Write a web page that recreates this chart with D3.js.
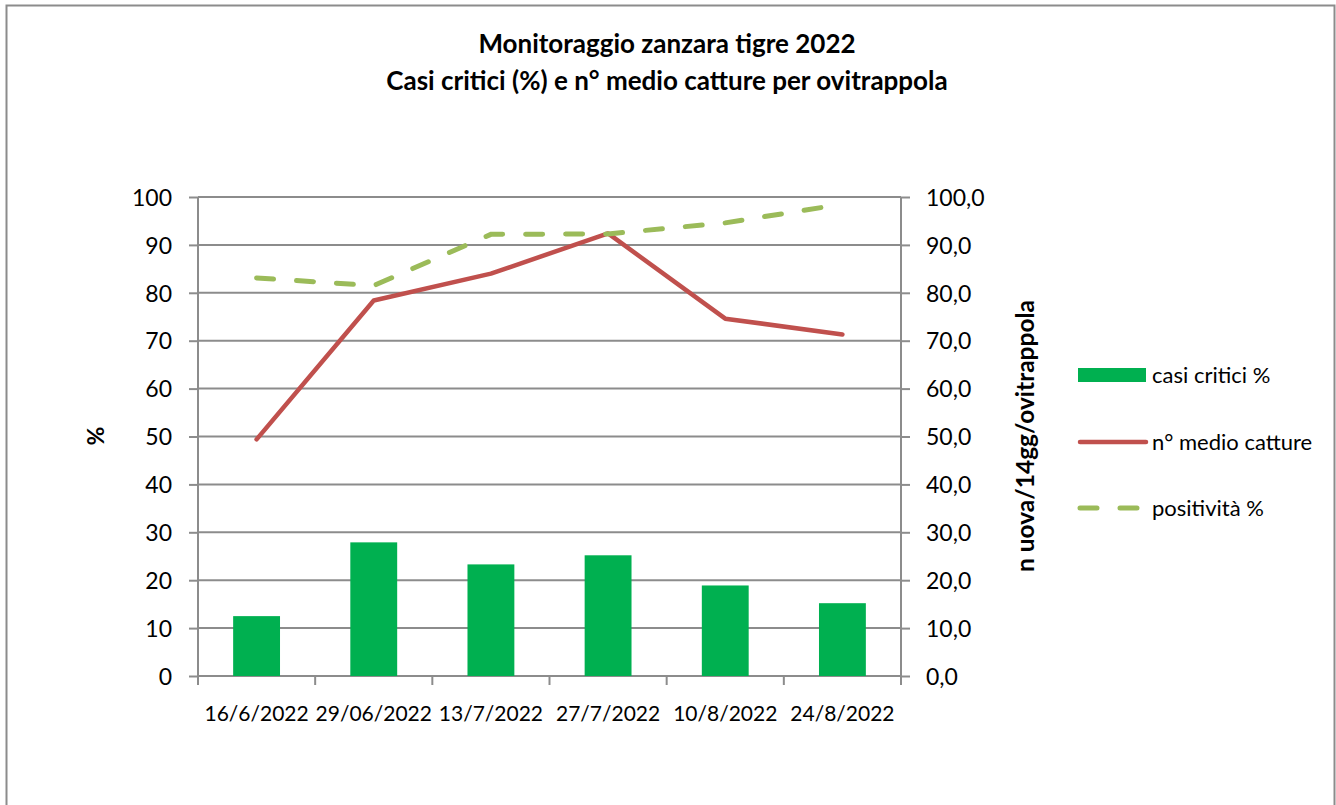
<!DOCTYPE html>
<html>
<head>
<meta charset="utf-8">
<script src="https://cdn.jsdelivr.net/npm/d3@7"></script>
<style>
  body { margin: 0; background: #fff; }
  svg text { font-family: Lato, "Open Sans", sans-serif; fill: #000; }
</style>
</head>
<body>
<script>
// dati
const date = ["16/6/2022", "29/06/2022", "13/7/2022", "27/7/2022", "10/8/2022", "24/8/2022"];
const casiCritici = [12.5, 27.9, 23.3, 25.2, 18.9, 15.2];
const medioCatture = [49.4, 78.4, 84.0, 92.4, 74.6, 71.3];
const positivita = [83.1, 81.5, 92.2, 92.3, 94.6, 98.5];
const tickSinistra = [0, 10, 20, 30, 40, 50, 60, 70, 80, 90, 100];
const tickDestra = ["0,0", "10,0", "20,0", "30,0", "40,0", "50,0", "60,0", "70,0", "80,0", "90,0", "100,0"];

const W = 1336, H = 805;
const margin = { top: 197, left: 198, right: 435, bottom: 129 };
const width = W - margin.left - margin.right;   // 703
const height = H - margin.top - margin.bottom;  // 479

const svg = d3.select("body").append("svg")
  .attr("width", W)
  .attr("height", H);

// cornice esterna
svg.append("rect")
  .attr("x", 6.5).attr("y", 5.5)
  .attr("width", 1328).attr("height", 820)
  .attr("fill", "none")
  .attr("stroke", "#8c8c8c")
  .attr("stroke-width", 2);

// titolo
const titolo = svg.append("text")
  .attr("text-anchor", "middle")
  .style("font-weight", "bold")
  .style("font-size", "26px");
titolo.append("tspan").attr("x", 667).attr("y", 53).text("Monitoraggio zanzara tigre 2022");
titolo.append("tspan").attr("x", 667).attr("y", 90).text("Casi critici (%) e n° medio catture per ovitrappola");

const g = svg.append("g")
  .attr("transform", "translate(" + margin.left + "," + margin.top + ")");

const x = d3.scaleBand().domain(date).range([0, width]);
const barW = x.step() * 0.4;
const y = d3.scaleLinear().domain([0, 100]).range([height, 0]);

// griglia
g.selectAll(".grid")
  .data(tickSinistra.slice(1))
  .enter().append("line")
  .attr("x1", 0).attr("x2", width)
  .attr("y1", d => y(d)).attr("y2", d => y(d))
  .attr("stroke", "#8c8c8c").attr("stroke-width", 2);

// asse sinistro
const axL = g.append("g")
  .call(d3.axisLeft(y).tickValues(tickSinistra).tickSize(9).tickPadding(17));
axL.select(".domain").attr("stroke", "#8c8c8c").attr("stroke-width", 2).attr("d", "M0," + height + "V0");
axL.selectAll(".tick line").attr("stroke", "#8c8c8c").attr("stroke-width", 2);
axL.selectAll("text").style("font-size", "23px").attr("dy", "0.36em");

// asse destro
const axR = g.append("g")
  .attr("transform", "translate(" + width + ",0)")
  .call(d3.axisRight(y).tickValues(tickSinistra).tickFormat((d, i) => tickDestra[i]).tickSize(9).tickPadding(16));
axR.select(".domain").attr("stroke", "#8c8c8c").attr("stroke-width", 2).attr("d", "M0," + height + "V0");
axR.selectAll(".tick line").attr("stroke", "#8c8c8c").attr("stroke-width", 2);
axR.selectAll("text").style("font-size", "23px").attr("dy", "0.36em");

// asse x
const axX = g.append("g")
  .attr("transform", "translate(0," + height + ")")
  .call(d3.axisBottom(x).tickSize(0).tickPadding(30));
axX.select(".domain").attr("stroke", "#8c8c8c").attr("stroke-width", 2).attr("d", "M0,0H" + width);
axX.selectAll("text").style("font-size", "21px");
g.selectAll(".xtick")
  .data(d3.range(date.length + 1))
  .enter().append("line")
  .attr("x1", d => d * x.step()).attr("x2", d => d * x.step())
  .attr("y1", height).attr("y2", height + 9)
  .attr("stroke", "#8c8c8c").attr("stroke-width", 2);

const cx = (d, i) => x(date[i]) + x.bandwidth() / 2;

// barre
g.selectAll(".bar")
  .data(casiCritici)
  .enter().append("rect")
  .attr("x", (d, i) => cx(d, i) - barW / 2)
  .attr("y", d => y(d))
  .attr("width", barW)
  .attr("height", d => height - y(d))
  .attr("fill", "#00b050");

// linea n° medio catture
g.append("path")
  .datum(medioCatture)
  .attr("d", d3.line().x(cx).y(d => y(d)))
  .attr("fill", "none")
  .attr("stroke", "#c0504d")
  .attr("stroke-width", 4.5)
  .attr("stroke-linejoin", "round")
  .attr("stroke-linecap", "round");

// linea positività
g.append("path")
  .datum(positivita)
  .attr("d", d3.line().x(cx).y(d => y(d)))
  .attr("fill", "none")
  .attr("stroke", "#9bbb59")
  .attr("stroke-width", 5)
  .attr("stroke-dasharray", "17,23")
  .attr("stroke-linecap", "round");

// titoli assi
svg.append("text")
  .attr("transform", "translate(104,436) rotate(-90)")
  .attr("text-anchor", "middle")
  .style("font-weight", "bold")
  .style("font-size", "23px")
  .text("%");
svg.append("text")
  .attr("transform", "translate(1034,436) rotate(-90)")
  .attr("text-anchor", "middle")
  .style("font-weight", "bold")
  .style("font-size", "24.5px")
  .text("n uova/14gg/ovitrappola");

// legenda
const leg = svg.append("g");
leg.append("rect")
  .attr("x", 1078).attr("y", 368).attr("width", 68).attr("height", 14)
  .attr("fill", "#00b050");
leg.append("line")
  .attr("x1", 1080).attr("x2", 1146).attr("y1", 442).attr("y2", 442)
  .attr("stroke", "#c0504d").attr("stroke-width", 4.5).attr("stroke-linecap", "round");
leg.append("line")
  .attr("x1", 1080).attr("x2", 1146).attr("y1", 508).attr("y2", 508)
  .attr("stroke", "#9bbb59").attr("stroke-width", 5)
  .attr("stroke-dasharray", "17,23").attr("stroke-linecap", "round");
const legTesti = ["casi critici %", "n° medio catture", "positività %"];
leg.selectAll(".lt")
  .data(legTesti)
  .enter().append("text")
  .attr("x", 1152)
  .attr("y", (d, i) => [375, 442, 508][i])
  .attr("dy", "0.36em")
  .style("font-size", "22px")
  .text(d => d);
</script>
</body>
</html>
